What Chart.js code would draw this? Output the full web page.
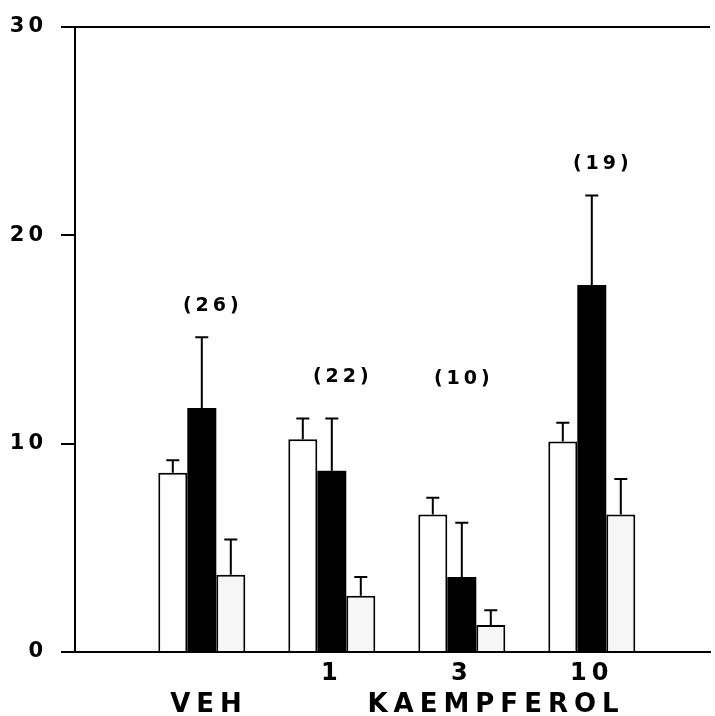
<!DOCTYPE html>
<html>
<head>
<meta charset="utf-8">
<script src="https://cdn.jsdelivr.net/npm/chart.js@4.4.1/dist/chart.umd.min.js"></script>
<style>
  html, body { margin: 0; padding: 0; background: #ffffff; }
  #wrap { width: 715px; height: 716px; }
</style>
</head>
<body>
<div id="wrap"><canvas id="c" width="715" height="716"></canvas></div>
<script>
// Groups along the x axis and their labels
const groups = ['VEH', '1', '3', '10'];
const doseLabels = ['', '1', '3', '10'];
const drugLabels = ['VEH', 'KAEMPFEROL'];
const nLabels = ['(26)', '(22)', '(10)', '(19)'];

// Means and upper error (SEM) for the three bar series
const whiteMean = [8.6, 10.2, 6.6, 10.1];
const whiteSem  = [0.6, 1.0, 0.8, 0.9];
const blackMean = [11.7, 8.7, 3.6, 17.6];
const blackSem  = [3.4, 2.5, 2.6, 4.3];
const greyMean  = [3.7, 2.7, 1.3, 6.6];
const greySem   = [1.7, 0.9, 0.7, 1.7];

// y axis ticks
const yTicks = [0, 10, 20, 30];

const FONT = "'DejaVu Sans', 'Liberation Sans', sans-serif";
const semSeries = [whiteSem, blackSem, greySem];

// Per-axis letter spacing for tick labels (wide, spaced-out lettering)
const labelSpacing = { y: '4px', x: '5px', x2: '6px' };
if (Chart.Scale && Chart.Scale.prototype.drawLabels) {
  const baseDrawLabels = Chart.Scale.prototype.drawLabels;
  Chart.Scale.prototype.drawLabels = function (area) {
    const ctx = this.ctx;
    const prev = ctx.letterSpacing;
    ctx.letterSpacing = labelSpacing[this.id] || '0px';
    baseDrawLabels.call(this, area);
    ctx.letterSpacing = prev;
  };
}

// Upward-only error bars with a cap
const errorBars = {
  id: 'errorBars',
  afterDatasetsDraw(chart) {
    const ctx = chart.ctx;
    const yScale = chart.scales.y;
    chart.data.datasets.forEach((ds, di) => {
      const meta = chart.getDatasetMeta(di);
      meta.data.forEach((bar, i) => {
        const top = yScale.getPixelForValue(ds.data[i].y + semSeries[di][i]);
        ctx.save();
        ctx.strokeStyle = '#000';
        ctx.lineWidth = 2;
        ctx.beginPath();
        ctx.moveTo(bar.x, bar.y);
        ctx.lineTo(bar.x, top);
        ctx.moveTo(bar.x - 6.5, top);
        ctx.lineTo(bar.x + 6.5, top);
        ctx.stroke();
        ctx.restore();
      });
    });
  }
};

// Group sizes "(n)" written above each group
const groupCounts = {
  id: 'groupCounts',
  afterDraw(chart, args, opts) {
    const ctx = chart.ctx;
    const xs = chart.scales.x, ys = chart.scales.y;
    ctx.save();
    ctx.letterSpacing = '4px';
    ctx.font = 'bold 19px ' + FONT;
    ctx.fillStyle = '#000';
    ctx.textAlign = 'center';
    ctx.textBaseline = 'middle';
    nLabels.forEach((t, i) => {
      const x = xs.getPixelForValue(i + 1) + opts.shift[i] + 2;
      const y = ys.getPixelForValue(opts.level[i]);
      ctx.fillText(t, x, y);
    });
    ctx.restore();
  }
};

const xMin = 1 - 126.8 / 130;
const xMax = xMin + 635 / 130;

const toPoints = arr => arr.map((v, i) => ({ x: i + 1, y: v }));

new Chart(document.getElementById('c'), {
  type: 'bar',
  data: {
    datasets: [
      { label: 'white', data: toPoints(whiteMean), backgroundColor: '#ffffff',
        borderColor: '#000000', borderWidth: 2, xAxisID: 'x' },
      { label: 'black', data: toPoints(blackMean), backgroundColor: '#000000',
        borderColor: '#000000', borderWidth: 0, xAxisID: 'x' },
      { label: 'grey', data: toPoints(greyMean), backgroundColor: '#f6f6f6',
        borderColor: '#000000', borderWidth: 2, xAxisID: 'x' }
    ]
  },
  options: {
    responsive: false,
    devicePixelRatio: 1,
    animation: false,
    events: [],
    categoryPercentage: 87 / 130,
    barPercentage: 1,
    layout: { padding: { top: 24, right: 5, left: 0, bottom: 0 } },
    plugins: {
      legend: { display: false },
      tooltip: { enabled: false },
      groupCounts: { shift: [9, 9, 0, 9], level: [16.6, 13.2, 13.1, 23.4] }
    },
    scales: {
      x: {
        type: 'linear',
        position: 'bottom',
        min: xMin,
        max: xMax,
        bounds: 'data',
        offset: false,
        grid: { display: false, drawTicks: false, offset: false },
        border: { display: true, color: '#000', width: 2 },
        afterBuildTicks: s => { s.ticks = [2, 3, 4].map(v => ({ value: v })); },
        afterFit: s => { s.height = 34; },
        ticks: {
          color: '#000',
          padding: 10,
          maxRotation: 0,
          autoSkip: false,
          font: { family: FONT, size: 24, weight: 'bold', lineHeight: 1 },
          callback: v => doseLabels[Math.round(v) - 1]
        }
      },
      x2: {
        type: 'linear',
        position: 'bottom',
        min: xMin,
        max: xMax,
        bounds: 'data',
        offset: false,
        grid: { display: false, drawTicks: false, offset: false },
        border: { display: false },
        afterBuildTicks: s => { s.ticks = [{ value: 1 + 7.2 / 130 }, { value: 3 + 34.2 / 130 }]; },
        afterFit: s => { s.height = 30; },
        ticks: {
          color: '#000',
          padding: 6,
          maxRotation: 0,
          autoSkip: false,
          font: { family: FONT, size: 26, weight: 'bold', lineHeight: 1 },
          callback: (v, i) => drugLabels[i]
        }
      },
      y: {
        type: 'linear',
        min: 0,
        max: 30,
        afterBuildTicks: s => { s.ticks = yTicks.map(v => ({ value: v })); },
        afterFit: s => { s.width = 75; },
        grid: {
          drawOnChartArea: true,
          color: c => (c.tick && c.tick.value === 30 ? '#000' : 'rgba(0,0,0,0)'),
          lineWidth: 2,
          tickColor: '#000',
          tickWidth: 2,
          tickLength: 14
        },
        border: { display: true, color: '#000', width: 2 },
        ticks: {
          color: '#000',
          padding: 14,
          font: { family: FONT, size: 21, weight: 'bold' },
          callback: v => String(v)
        }
      }
    }
  },
  plugins: [errorBars, groupCounts]
});
</script>
</body>
</html>
